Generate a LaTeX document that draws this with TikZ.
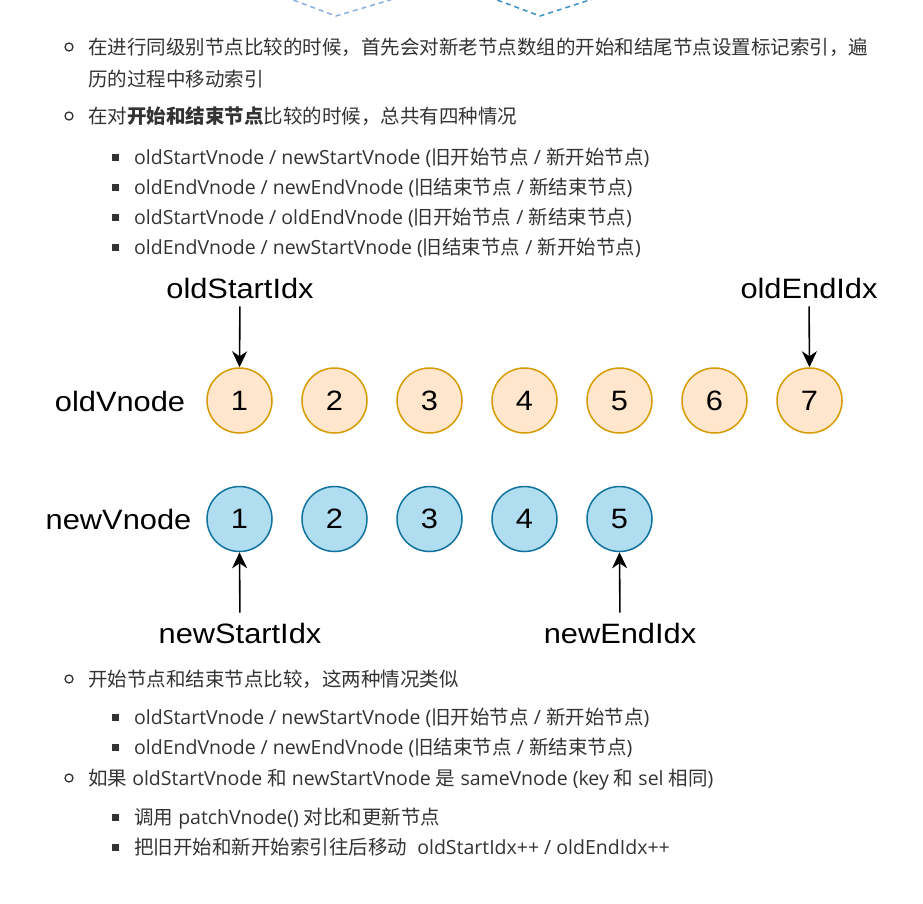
\documentclass[tikz,border=0pt]{standalone}
\usepackage{fontspec}
\setmainfont{Open Sans}
\newfontfamily\cjkf{Noto Sans CJK SC}
\newfontfamily\dgmf[FakeStretch=1.1]{Liberation Sans}
\usetikzlibrary{arrows.meta}
\definecolor{txt}{HTML}{333333}
\definecolor{ofill}{HTML}{FFE6CC}
\definecolor{odraw}{HTML}{D79B00}
\definecolor{bfill}{HTML}{B1DDF0}
\definecolor{bdraw}{HTML}{10739E}
\definecolor{vl}{HTML}{8DAEE0}
\definecolor{vr}{HTML}{3A93C4}
\newcommand\zh[1]{{\cjkf #1}}
\tikzset{
  listtxt/.style={anchor=base west, inner sep=0pt, text=txt, font=\fontsize{19.5}{24}\selectfont},
  ringbul/.style={circle, draw=txt, line width=1.3pt, inner sep=0pt, minimum size=8pt},
  sqbul/.style={rectangle, fill=txt, inner sep=0pt, minimum size=7pt},
  oldnode/.style={circle, minimum size=65pt, inner sep=0pt, fill=ofill, draw=odraw, line width=1.5pt, font=\dgmf\fontsize{28}{28}\selectfont},
  newnode/.style={circle, minimum size=65pt, inner sep=0pt, fill=bfill, draw=bdraw, line width=1.5pt, font=\dgmf\fontsize{28}{28}\selectfont},
  lbl/.style={anchor=base, inner sep=0pt, font=\dgmf\fontsize{28}{28}\selectfont},
  arr/.style={-{Stealth[length=16pt,width=15pt,inset=5pt]}, line width=1.6pt},
  vdash/.style={line width=1.5pt, dash pattern=on 5pt off 4pt}
}
\begin{document}
\begin{tikzpicture}[x=1pt,y=-1pt]
\useasboundingbox (0,0) rectangle (923,903);
\clip (0,0) rectangle (923,903);
\fill[white] (0,0) rectangle (923,903);
% dashed fragments at top
\draw[vdash, vl] (285,-3) -- (336,16) -- (400,-3);
\draw[vdash, vr] (489,-3) -- (540,16) -- (599,-3);
% upper list
\node[ringbul] (b1) at (69,47) {};
\node[listtxt] (t1) at (88,54) {\zh{在进行同级别节点比较的时候，首先会对新老节点数组的开始和结尾节点设置标记索引，遍}};
\node[listtxt] (t1b) at (88,86) {\zh{历的过程中移动索引}};
\node[ringbul] (b2) at (69,116) {};
\node[listtxt] (t2) at (88,123) {\zh{在对}{\cjkf\bfseries 开始和结束节点}\zh{比较的时候，总共有四种情况}};
\node[sqbul] (s1) at (115.5,157) {};
\node[listtxt] (u1) at (134,164) {oldStartVnode / newStartVnode (\zh{旧开始节点} / \zh{新开始节点})};
\node[sqbul] (s2) at (115.5,187) {};
\node[listtxt] (u2) at (134,194) {oldEndVnode / newEndVnode (\zh{旧结束节点} / \zh{新结束节点})};
\node[sqbul] (s3) at (115.5,217) {};
\node[listtxt] (u3) at (134,224) {oldStartVnode / oldEndVnode (\zh{旧开始节点} / \zh{新结束节点})};
\node[sqbul] (s4) at (115.5,247) {};
\node[listtxt] (u4) at (134,254) {oldEndVnode / newStartVnode (\zh{旧结束节点} / \zh{新开始节点})};
% diagram
\node[lbl] (oldlbl) at (120,411.5) {oldVnode};
\node[lbl] (newlbl) at (118.5,529.5) {newVnode};
\foreach \i in {1,...,7} {
  \node[oldnode] (o\i) at ({239.5+95*(\i-1)},400.5) {\i};
}
\foreach \i in {1,...,5} {
  \node[newnode] (n\i) at ({239.5+95*(\i-1)},519) {\i};
}
\node[lbl] (osi) at (240,298) {oldStartIdx};
\node[lbl] (oei) at (809,298) {oldEndIdx};
\node[lbl] (nsi) at (240,643) {newStartIdx};
\node[lbl] (nei) at (620,643) {newEndIdx};
\draw[arr, shorten <=8pt] (osi.south) -- (o1.north);
\draw[arr, shorten <=8pt] (oei.south) -- (o7.north);
\draw[arr, shorten <=10pt] (nsi.north) -- (n1.south);
\draw[arr, shorten <=10pt] (nei.north) -- (n5.south);
% lower list
\node[ringbul] (b3) at (69,679) {};
\node[listtxt] (t3) at (88,686) {\zh{开始节点和结束节点比较，这两种情况类似}};
\node[sqbul] (s5) at (115.5,717) {};
\node[listtxt] (u5) at (134,724) {oldStartVnode / newStartVnode (\zh{旧开始节点} / \zh{新开始节点})};
\node[sqbul] (s6) at (115.5,747) {};
\node[listtxt] (u6) at (134,754) {oldEndVnode / newEndVnode (\zh{旧结束节点} / \zh{新结束节点})};
\node[ringbul] (b4) at (69,778) {};
\node[listtxt] (t4) at (88,785) {\zh{如果} oldStartVnode \zh{和} newStartVnode \zh{是} sameVnode (key \zh{和} sel \zh{相同})};
\node[sqbul] (s7) at (115.5,817) {};
\node[listtxt] (u7) at (134,824) {\zh{调用} patchVnode() \zh{对比和更新节点}};
\node[sqbul] (s8) at (115.5,847) {};
\node[listtxt] (u8) at (134,854) {\zh{把旧开始和新开始索引往后移动}\ \ oldStartIdx++ / oldEndIdx++};
\end{tikzpicture}
\end{document}
